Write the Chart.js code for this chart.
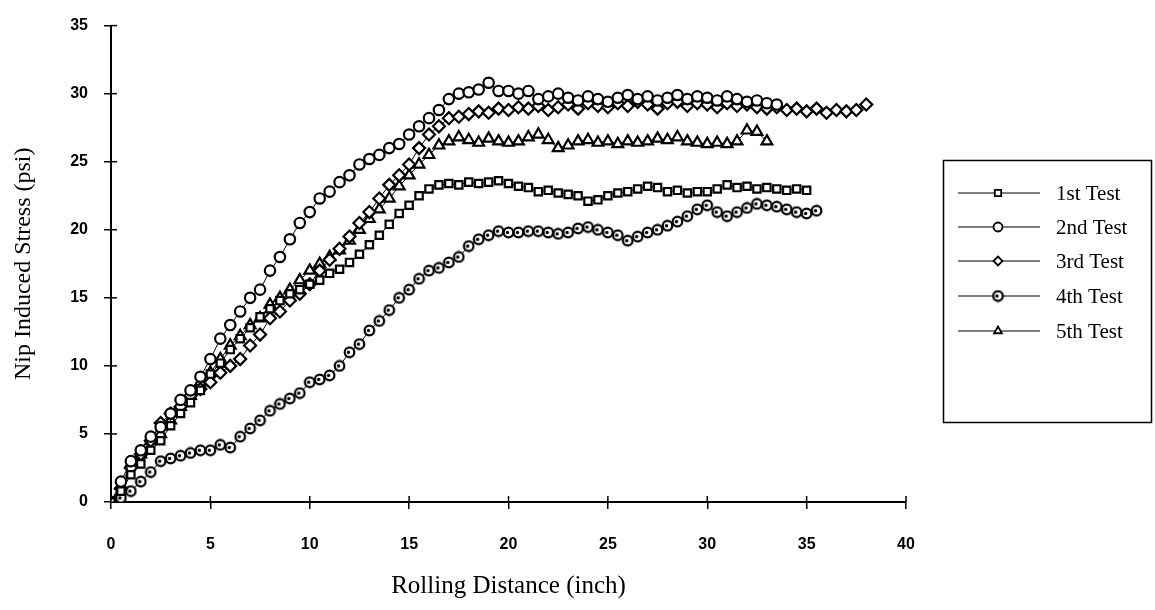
<!DOCTYPE html>
<html>
<head>
<meta charset="utf-8">
<script src="https://cdn.jsdelivr.net/npm/chart.js@4/dist/chart.umd.min.js"></script>
<style>
    body { margin: 0; background: #fff; }
    #wrap { width: 1155px; height: 610px; }
</style>
</head>
<body>
<div id="wrap"><canvas id="stress-chart" width="1155" height="610"></canvas></div>
<script>
// Rolling distance samples (inch), shared by all tests
const distance = [
    0, 0.5, 1, 1.5, 2, 2.5, 3, 3.5, 4, 4.5, 5, 5.5, 6, 6.5, 7, 7.5, 8, 8.5, 9, 9.5,
    10, 10.5, 11, 11.5, 12, 12.5, 13, 13.5, 14, 14.5, 15, 15.5, 16, 16.5, 17, 17.5, 18, 18.5, 19, 19.5,
    20, 20.5, 21, 21.5, 22, 22.5, 23, 23.5, 24, 24.5, 25, 25.5, 26, 26.5, 27, 27.5, 28, 28.5, 29, 29.5,
    30, 30.5, 31, 31.5, 32, 32.5, 33, 33.5, 34, 34.5, 35, 35.5, 36, 36.5, 37, 37.5, 38
];

// Nip induced stress (psi) for each test
const test1 = [
    0, 0.8, 2, 2.8, 3.8, 4.5, 5.6, 6.5, 7.3, 8.2,
    9.4, 10.2, 11.2, 12, 12.8, 13.6, 14.2, 14.8, 15.3, 15.6,
    16, 16.3, 16.8, 17.1, 17.6, 18.2, 18.9, 19.6, 20.4, 21.2,
    21.8, 22.5, 23, 23.3, 23.4, 23.3, 23.5, 23.4, 23.5, 23.6,
    23.4, 23.2, 23.1, 22.8, 22.9, 22.7, 22.6, 22.5, 22.1, 22.2,
    22.5, 22.7, 22.8, 23, 23.2, 23.1, 22.8, 22.9, 22.7, 22.8,
    22.8, 23, 23.3, 23.1, 23.2, 23, 23.1, 23, 22.9, 23,
    22.9
];
const test2 = [
    0, 1.5, 3, 3.8, 4.8, 5.5, 6.5, 7.5, 8.2, 9.2,
    10.5, 12, 13, 14, 15, 15.6, 17, 18, 19.3, 20.5,
    21.3, 22.3, 22.8, 23.5, 24, 24.8, 25.2, 25.5, 26, 26.3,
    27, 27.6, 28.2, 28.8, 29.6, 30, 30.1, 30.3, 30.8, 30.2,
    30.2, 30, 30.2, 29.6, 29.8, 30, 29.7, 29.5, 29.8, 29.6,
    29.4, 29.7, 29.9, 29.6, 29.8, 29.5, 29.7, 29.9, 29.6, 29.8,
    29.7, 29.5, 29.8, 29.6, 29.4, 29.5, 29.3, 29.2
];
const test3 = [
    0, 1, 2.5, 3.5, 4.5, 5.8, 6.5, 7, 7.8, 8.3,
    8.8, 9.5, 10, 10.5, 11.5, 12.3, 13.5, 14, 14.8, 15.3,
    16, 17, 17.8, 18.6, 19.5, 20.5, 21.3, 22.3, 23.3, 24,
    24.8, 26, 27, 27.6, 28.2, 28.3, 28.5, 28.7, 28.6, 28.9,
    28.8, 29, 28.9, 29.1, 28.8, 29, 29.2, 28.9, 29.3, 29.1,
    29, 29.3, 29.1, 29.4, 29.2, 28.9, 29.3, 29.4, 29.1, 29.3,
    29.2, 29, 29.3, 29.1, 29.2, 29, 28.9, 29, 28.8, 28.9,
    28.7, 28.9, 28.6, 28.8, 28.7, 28.8, 29.2, 29.6
];
const test4 = [
    0, 0.3, 0.8, 1.5, 2.2, 3, 3.2, 3.4, 3.6, 3.8,
    3.8, 4.2, 4, 4.8, 5.4, 6, 6.7, 7.2, 7.6, 8,
    8.8, 9, 9.3, 10, 11, 11.6, 12.6, 13.3, 14.1, 15,
    15.6, 16.4, 17, 17.2, 17.6, 18, 18.8, 19.3, 19.6, 19.9,
    19.8, 19.8, 19.9, 19.9, 19.8, 19.7, 19.8, 20.1, 20.2, 20,
    19.8, 19.6, 19.2, 19.5, 19.8, 20, 20.3, 20.6, 21, 21.5,
    21.8, 21.3, 21, 21.3, 21.6, 21.9, 21.8, 21.7, 21.5, 21.3,
    21.2, 21.4
];
const test5 = [
    0, 1.2, 2.8, 3.5, 4.5, 5, 6, 7, 7.8, 8.8,
    9.5, 10.5, 11.5, 12.2, 13, 13.5, 14.5, 15, 15.6, 16.3,
    17, 17.5, 18, 18.5, 19.2, 20, 20.8, 21.5, 22.3, 23.2,
    24, 24.8, 25.5, 26.2, 26.5, 26.8, 26.6, 26.4, 26.7, 26.5,
    26.4, 26.5, 26.8, 27, 26.6, 26, 26.2, 26.5, 26.6, 26.4,
    26.5, 26.3, 26.5, 26.4, 26.5, 26.7, 26.6, 26.8, 26.5, 26.4,
    26.3, 26.4, 26.3, 26.5, 27.3, 27.2, 26.5
];

const testNames = ["1st Test", "2nd Test", "3rd Test", "4th Test", "5th Test"];
const xTicks = [0, 5, 10, 15, 20, 25, 30, 35, 40];
const yTicks = [0, 5, 10, 15, 20, 25, 30, 35];

// circle marker with a dark fleck inside (4th test)
function makeDottedCircle() {
    const c = document.createElement("canvas");
    c.width = 13; c.height = 13;
    const g = c.getContext("2d");
    g.beginPath();
    g.arc(6.5, 6.5, 4.8, 0, Math.PI * 2);
    g.fillStyle = "#fff";
    g.fill();
    g.lineWidth = 2.2;
    g.strokeStyle = "#000";
    g.stroke();
    g.beginPath();
    g.arc(5.5, 6.5, 1.7, 0, Math.PI * 2);
    g.fillStyle = "#000";
    g.fill();
    return c;
}

function toPoints(ys) {
    return ys.map((y, i) => ({ x: distance[i], y: y }));
}

const styles = ["rect", "circle", "rectRot", makeDottedCircle(), "triangle"];
const radii = [5.2, 5.2, 6, 6, 6.2];
const series = [test1, test2, test3, test4, test5];

// legend box drawn on the canvas, line + marker + label
const legendPlugin = {
    id: "boxLegend",
    afterDraw(chart) {
        const ctx = chart.ctx;
        ctx.save();
        ctx.strokeStyle = "#000";
        ctx.lineWidth = 1.5;
        ctx.strokeRect(943.5, 160.5, 208, 262);
        const rows = [193, 227, 261, 296, 331];
        chart.data.datasets.forEach((ds, i) => {
            const y = rows[i];
            ctx.strokeStyle = "#000";
            ctx.lineWidth = 1.2;
            ctx.beginPath();
            ctx.moveTo(958, y);
            ctx.lineTo(1040, y);
            ctx.stroke();
            ctx.fillStyle = "#fff";
            ctx.lineWidth = 1.8;
            Chart.helpers.drawPoint(ctx, { pointStyle: ds.pointStyle, radius: 4.5, borderWidth: 1.8, rotation: 0 }, 998, y);
            ctx.fillStyle = "#000";
            ctx.font = "21px 'Liberation Serif'";
            ctx.textBaseline = "middle";
            ctx.textAlign = "left";
            ctx.fillText(ds.label, 1056, y + 1);
        });
        ctx.restore();
    }
};

// inner half of the cross-shaped tick marks
const innerTicks = {
    id: "innerTicks",
    afterDraw(chart) {
        const ctx = chart.ctx;
        const xs = chart.scales.x, ys = chart.scales.y;
        ctx.save();
        ctx.strokeStyle = "#000";
        ctx.lineWidth = 1.5;
        xTicks.forEach(v => {
            const px = xs.getPixelForValue(v);
            ctx.beginPath();
            ctx.moveTo(px, ys.bottom);
            ctx.lineTo(px, ys.bottom - 6);
            ctx.stroke();
        });
        yTicks.forEach(v => {
            const py = ys.getPixelForValue(v);
            ctx.beginPath();
            ctx.moveTo(xs.left, py);
            ctx.lineTo(xs.left + 6, py);
            ctx.stroke();
        });
        ctx.restore();
    }
};

function initChart() {
    const ctx = document.getElementById("stress-chart").getContext("2d");
    new Chart(ctx, {
        type: "line",
        data: {
            datasets: series.map((ys, i) => ({
                label: testNames[i],
                data: toPoints(ys),
                borderColor: "#000",
                borderWidth: 1,
                pointStyle: styles[i],
                pointRadius: radii[i],
                pointBorderWidth: 2.2,
                pointBorderColor: "#000",
                pointBackgroundColor: "#fff",
                tension: 0
            }))
        },
        options: {
            responsive: false,
            animation: false,
            events: [],
            layout: { padding: { left: 0, right: 249, top: 19, bottom: 0 } },
            plugins: { legend: { display: false }, tooltip: { enabled: false } },
            scales: {
                x: {
                    type: "linear",
                    min: 0, max: 40,
                    afterBuildTicks: s => { s.ticks = xTicks.map(v => ({ value: v })); },
                    afterFit: s => { s.height = 108; },
                    border: { color: "#000", width: 2 },
                    grid: { drawOnChartArea: false, drawTicks: true, tickLength: 7, color: "#000", lineWidth: 1.5 },
                    ticks: { color: "#000", padding: 26, maxRotation: 0, font: { family: "'Liberation Sans'", size: 16, weight: "bold" } },
                    title: { display: true, text: "Rolling Distance (inch)", color: "#000", padding: { top: 0, bottom: 9 }, font: { family: "'Liberation Serif'", size: 25 } }
                },
                y: {
                    type: "linear",
                    min: 0, max: 35,
                    afterBuildTicks: s => { s.ticks = yTicks.map(v => ({ value: v })); },
                    afterFit: s => { s.width = 111; },
                    border: { color: "#000", width: 2 },
                    grid: { drawOnChartArea: false, drawTicks: true, tickLength: 7, color: "#000", lineWidth: 1.5 },
                    ticks: { color: "#000", padding: 16, font: { family: "'Liberation Sans'", size: 16, weight: "bold" } },
                    title: { display: true, text: "Nip Induced Stress (psi)", color: "#000", padding: { top: 9, bottom: 0 }, font: { family: "'Liberation Serif'", size: 24 } }
                }
            }
        },
        plugins: [legendPlugin, innerTicks]
    });
}

window.onload = initChart;
</script>
</body>
</html>
